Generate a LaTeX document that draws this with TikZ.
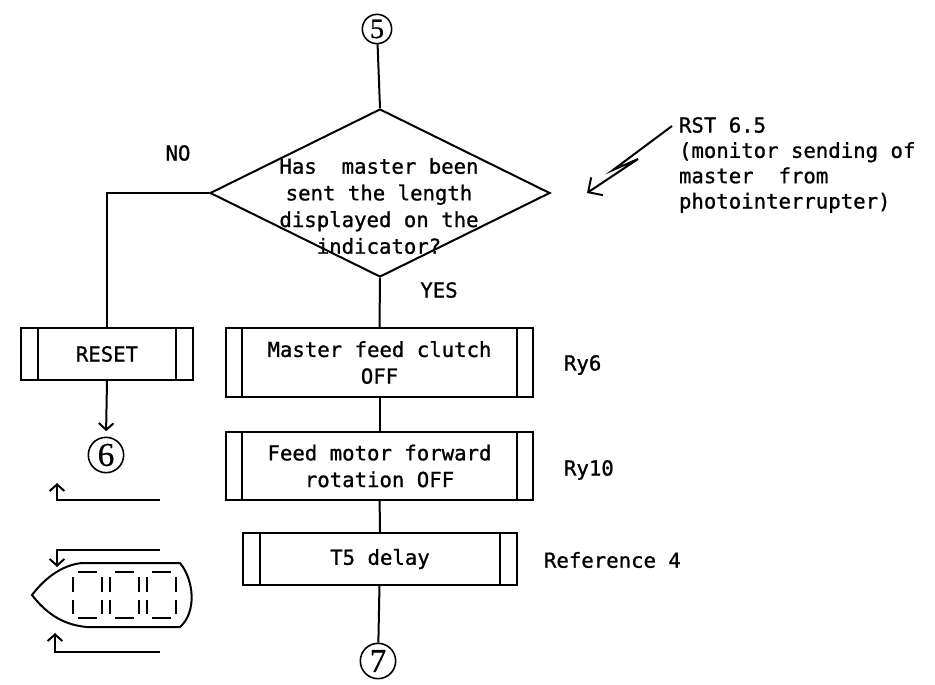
\documentclass[tikz,border=0pt]{standalone}
\usepackage{fontspec}
\newfontfamily\monof[FakeBold=1]{DejaVu Sans Mono}
\newfontfamily\digitf[FakeBold=0.6]{Liberation Serif}
\usetikzlibrary{arrows.meta,shapes.geometric,calc}

\begin{document}
\begin{tikzpicture}[x=0.75pt,y=-0.75pt,line width=1.5pt,
  txt/.style={font=\monof\fontsize{15.5}{20}\selectfont,inner sep=0pt,align=center},
  lbl/.style={font=\monof\fontsize{15.5}{19}\selectfont,inner sep=0pt,align=left},
  conn/.style={draw,circle,inner sep=0pt,line width=1.2pt},
  subr/.style={draw,rectangle,inner sep=0pt,align=center,font=\monof\fontsize{15.5}{20}\selectfont},
  arr/.style={-{Straight Barb[length=5pt,width=11pt,line width=1.5pt]}},
  bolt/.style={-{Straight Barb[length=8pt,width=16pt,line width=1.5pt]}},
  seg/.style={line width=1.1pt}]

\useasboundingbox (0,0) rectangle (935,685);

% connectors (circled numbers)
\node[conn,minimum size=22pt] (c5) at (377,29) {\digitf\fontsize{21}{21}\selectfont 5};
\node[conn,minimum size=26.5pt] (c6) at (106,455) {\digitf\fontsize{25}{25}\selectfont 6};
\node[conn,minimum size=26.5pt] (c7) at (378,661) {\digitf\fontsize{25}{25}\selectfont 7};

% decision
\node[draw,diamond,minimum width=255pt,minimum height=126pt,inner sep=0pt] (dec) at (380,193) {};
\node[txt] (dectext) at (379,206) {Has\ \ master been\\sent the length\\displayed on the\\indicator?};

% subroutine boxes
\node[subr,minimum width=129pt,minimum height=39pt] (reset) at (107,354) {RESET};
\node[subr,minimum width=230.25pt,minimum height=51.75pt] (b1) at (379.5,362.5) {Master feed clutch\\OFF};
\node[subr,minimum width=230.25pt,minimum height=51pt] (b2) at (379.5,466) {Feed motor forward\\rotation OFF};
\node[subr,minimum width=205.5pt,minimum height=39pt] (b3) at (380,559) {T5 delay};

% side bars of the subroutine boxes
\foreach \n/\d in {reset/18,b1/17,b2/17,b3/18}{
  \draw ($(\n.north west)+(\d,0)$) -- ($(\n.south west)+(\d,0)$);
  \draw ($(\n.north east)+(-\d,0)$) -- ($(\n.south east)+(-\d,0)$);
}

% labels
\node[txt] (no) at (178,153) {NO};
\node[txt] (yes) at (439,290) {YES};
\node[lbl,anchor=west] (ry6) at (563,365) {Ry6};
\node[lbl,anchor=west] (ry10) at (563,470) {Ry10};
\node[lbl,anchor=west] (ref4) at (543,560) {Reference 4};
\node[lbl,anchor=west] (rst) at (678,165) {RST 6.5\\(monitor sending of\\master\ \ from\\photointerrupter)};

% flow lines
\coordinate (nocorner) at (107,193);
\draw (c5) -- (dec.north);
\draw (dec.west) -- (nocorner) -- (reset.north);
\draw[arr,shorten >=4pt] (reset.south) -- (c6.north);
\draw (dec.south) -- (b1.north);
\draw (b1) -- (b2);
\draw (b2) -- (b3);
\draw (b3) -- (c7);

% interrupt signal
\coordinate (z0) at (672,126);
\coordinate (z1) at (613,170);
\coordinate (z2) at (638,159);
\coordinate (z3) at (587,193);
\draw[bolt,line join=miter] (z0) -- (z1) -- (z2) -- (z3);

% indicator display with its arrows
\coordinate (a1s) at (160,500); \coordinate (a1c) at (57,500); \coordinate (a1e) at (57,483);
\coordinate (a2s) at (160,550); \coordinate (a2c) at (57,550); \coordinate (a2e) at (57,567);
\coordinate (a3s) at (160,652); \coordinate (a3c) at (55,652); \coordinate (a3e) at (55,633);
\draw[arr] (a1s) -- (a1c) -- (a1e);
\draw[arr] (a2s) -- (a2c) -- (a2e);
\draw[arr] (a3s) -- (a3c) -- (a3e);

\draw (82,563) -- (180,563) .. controls (194,580) and (197,612) .. (180,627)
  -- (87,627) .. controls (62,625) and (45,612) .. (32,595)
  .. controls (45,578) and (62,565) .. (82,563) -- cycle;

\foreach \L in {73,110,147}{
  \pgfmathsetmacro{\R}{\L+29}
  \draw[seg] (\L+5,572) -- (\R-5,572);
  \draw[seg] (\L+5,618) -- (\R-5,618);
  \draw[seg] (\L,577) -- (\L,592);
  \draw[seg] (\L,600) -- (\L,614);
  \draw[seg] (\R,577) -- (\R,592);
  \draw[seg] (\R,600) -- (\R,614);
}
\end{tikzpicture}
\end{document}
